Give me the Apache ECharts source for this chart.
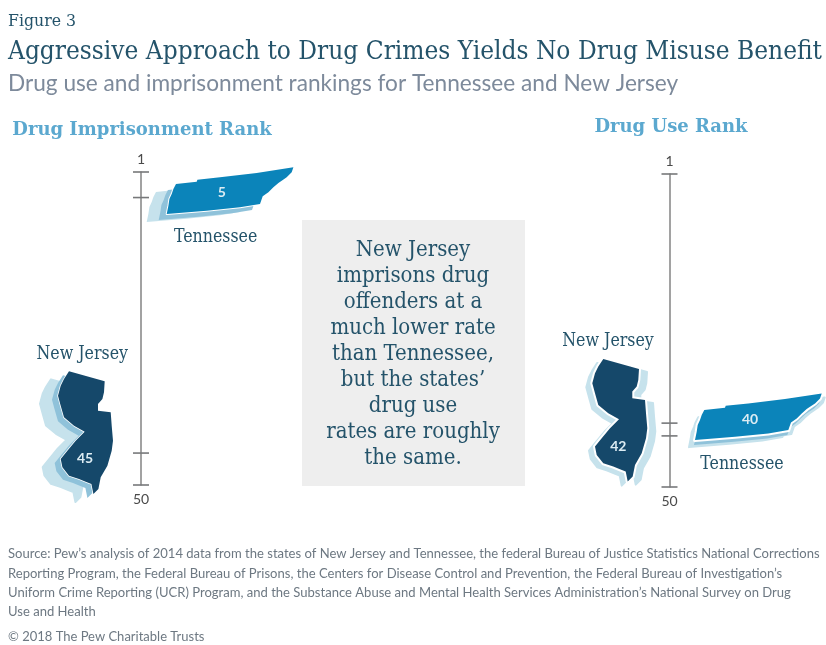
<!DOCTYPE html>
<html>
<head>
<meta charset="utf-8">
<title>Drug use and imprisonment rankings</title>
<style>html,body{margin:0;padding:0;background:#fff}#chart{width:826px;height:645px}</style>
<script src="https://cdn.jsdelivr.net/npm/echarts@6/dist/echarts.min.js"></script>
</head>
<body>
<div id="chart"></div>
<script>
// Rank values for each panel
const stateNames = ['Tennessee', 'New Jersey'];
const imprisonmentRanks = [5, 45];
const useRanks = [40, 42];
const scaleEnds = [1, 50];
const panelTitles = ['Drug Imprisonment Rank', 'Drug Use Rank'];
const calloutLines = ['New Jersey', 'imprisons drug', 'offenders at a', 'much lower rate', 'than Tennessee,',
  'but the states’', 'drug use', 'rates are roughly', 'the same.'];
const sourceLines = [
  'Source: Pew’s analysis of 2014 data from the states of New Jersey and Tennessee, the federal Bureau of Justice Statistics National Corrections',
  'Reporting Program, the Federal Bureau of Prisons, the Centers for Disease Control and Prevention, the Federal Bureau of Investigation’s',
  'Uniform Crime Reporting (UCR) Program, and the Substance Abuse and Mental Health Services Administration’s National Survey on Drug',
  'Use and Health'
];

// State silhouettes in local pixels, origin at the south-west corner
const TENNESSEE = [[9.3,-30],[30,-32.3],[30.7,-34.3],[53.3,-36.7],[90,-41],[126.7,-46.7],[125,-41.7],[120,-36.7],
  [115,-33.3],[111.7,-31],[106.7,-26.7],[101.7,-21.7],[96,-17.7],[93.3,-10],[73.3,-6.7],[40,-3.3],[0,0],
  [1.7,-8.3],[2.7,-15],[5,-20],[6.7,-25]];
const NEW_JERSEY = [[8.3,-87.7],[44,-77.7],[43.3,-66.7],[41.7,-60],[37.3,-55],[37.3,-48.3],[50,-46.7],[51,-33.3],
  [52.3,-18.3],[51,-8.3],[46.7,6.7],[40,18.3],[37.7,30],[32.7,35],[30.7,25],[25,22.7],[18.3,20],[8.3,16.7],
  [1.7,8.3],[0,0],[6.7,-8.3],[15,-18.3],[24,-27.3],[13.3,-33.3],[3.3,-41.7],[0,-53.3],[-2.7,-63.3],[0,-73.3],[3.3,-80]];

const PALE = '#c6e2ec', MID = '#8fc2da', TN_BLUE = '#0b84ba', NJ_NAVY = '#15486a', TEXT = '#24536a';
const SLAB = '"DejaVu Serif Condensed","DejaVu Serif",serif';

// How each state sits relative to its rank position on the scale
const layouts = {
  left: [
    { outline: TENNESSEE, fill: TN_BLUE, dx: 25.7, dy: 16.4, halo: 2, shadows: [[PALE,-20,8,0],[MID,-8,6,0]],
      value: [55,-21], name: [49,23] },
    { outline: NEW_JERSEY, fill: NJ_NAVY, dx: -80.3, dy: 6, halo: 1.5, shadows: [[PALE,-18,8,2],[MID,-6,4,0]],
      value: [24.3,-0.3], name: [21.5,-105] }
  ],
  right: [
    { outline: TENNESSEE, fill: TN_BLUE, dx: 25.5, dy: 17, halo: 4, shadows: [[PALE,-6,7,2],[PALE,3,4,2],[MID,-1,5,0]],
      value: [55,-20.7], name: [47,24] },
    { outline: NEW_JERSEY, fill: NJ_NAVY, dx: -74.5, dy: 10.7, halo: 4, shadows: [[PALE,8,3,2],[PALE,-6,4,2]],
      value: [23.3,0], name: [13,-105] }
  ]
};

const at = (pts, ox, oy) => pts.map(p => [p[0] + ox, p[1] + oy]);

function stateSeries(panel, gridIndex, ranks) {
  return {
    type: 'custom', xAxisIndex: gridIndex, yAxisIndex: gridIndex, clip: false, z: 5,
    data: ranks.map((r, i) => [0, r, i]),
    renderItem(params, api) {
      const idx = api.value(2);
      const rank = api.value(1);
      const spot = api.coord([0, rank]);
      const cfg = layouts[panel][idx];
      const ox = spot[0] + cfg.dx, oy = spot[1] + cfg.dy;
      const kids = cfg.shadows.map(s => ({
        type: 'polygon',
        shape: { points: at(cfg.outline, ox + s[1], oy + s[2]) },
        style: { fill: s[0], stroke: s[0], lineWidth: s[3], lineJoin: 'round' }
      }));
      kids.push({
        type: 'polygon', shape: { points: at(cfg.outline, ox, oy) },
        style: { fill: cfg.fill, stroke: '#ffffff', lineWidth: cfg.halo, lineJoin: 'round', strokeFirst: true }
      });
      kids.push({
        type: 'text', x: ox + cfg.value[0], y: oy + cfg.value[1],
        style: { text: String(rank), fill: '#dcecf3', font: 'bold 14px Lato', align: 'center', verticalAlign: 'middle' }
      });
      kids.push({
        type: 'text', x: ox + cfg.name[0], y: oy + cfg.name[1],
        style: { text: stateNames[idx], fill: TEXT, font: '17.6px ' + SLAB, align: 'center', verticalAlign: 'middle' }
      });
      return { type: 'group', children: kids };
    }
  };
}

function tickSeries(gridIndex, ranks) {
  const marks = [...scaleEnds.map(v => ({ value: [0, v], end: v })), ...ranks.map(v => ({ value: [0, v] }))];
  return {
    type: 'scatter', xAxisIndex: gridIndex, yAxisIndex: gridIndex, clip: false, silent: true, z: 4,
    symbol: 'rect', symbolSize: [16, 1.6], itemStyle: { color: '#77787a', opacity: 1 },
    data: marks.map(m => ({
      value: m.value,
      label: {
        show: m.end !== undefined, formatter: String(m.end),
        position: m.end === scaleEnds[0] ? 'top' : 'bottom',
        distance: m.end === scaleEnds[0] ? 5 : 7, color: '#4a4a4a', fontFamily: 'Lato', fontSize: 14
      }
    }))
  };
}

const valueAxis = (gridIndex) => ({
  type: 'value', gridIndex, inverse: true, min: scaleEnds[0], max: scaleEnds[1],
  axisLine: { show: true, onZero: false, lineStyle: { color: '#8b8b8b', width: 1.6 } },
  axisTick: { show: false }, axisLabel: { show: false }, splitLine: { show: false }
});
const hiddenAxis = (gridIndex) => ({ type: 'value', gridIndex, min: 0, max: 1, show: false });

const textEl = (text, x, y, font, fill, align) => ({
  type: 'text', x, y, silent: true,
  style: { text, font, fill, align: align || 'left', verticalAlign: 'middle' }
});

const chart = echarts.init(document.getElementById('chart'), null, { renderer: 'canvas' });
chart.setOption({
  animation: false,
  backgroundColor: '#ffffff',
  grid: [
    { left: 141, top: 172, width: 1, height: 313 },
    { left: 669.5, top: 174, width: 1, height: 313 }
  ],
  xAxis: [hiddenAxis(0), hiddenAxis(1)],
  yAxis: [valueAxis(0), valueAxis(1)],
  series: [
    tickSeries(0, imprisonmentRanks),
    tickSeries(1, useRanks),
    stateSeries('left', 0, imprisonmentRanks),
    stateSeries('right', 1, useRanks)
  ],
  graphic: [
    textEl('Figure 3', 8, 21.5, '17.5px ' + SLAB, TEXT),
    textEl('Aggressive Approach to Drug Crimes Yields No Drug Misuse Benefit', 8, 52.5, '26px ' + SLAB, TEXT),
    textEl('Drug use and imprisonment rankings for Tennessee and New Jersey', 8, 83.5, '22.65px Lato', '#7d8a9b'),
    textEl(panelTitles[0], 142, 130, 'bold 18px "DejaVu Serif",serif', '#5ba8cf', 'center'),
    textEl(panelTitles[1], 671, 127, 'bold 18px "DejaVu Serif",serif', '#5ba8cf', 'center'),
    {
      type: 'rect', z: 1, silent: true,
      shape: { x: 302, y: 220, width: 223, height: 266 },
      style: { fill: '#eeeeee' }
    },
    ...calloutLines.map((line, i) => ({
      ...textEl(line, 413, 250.5 + i * 26, '22px ' + SLAB, TEXT, 'center'), z: 2
    })),
    ...sourceLines.map((line, i) => textEl(line, 8, 554 + i * 19.3, '13.05px Lato', '#6d7882')),
    textEl('© 2018 The Pew Charitable Trusts', 8, 637, '13px Lato', '#6d7882')
  ]
});
</script>
</body>
</html>
